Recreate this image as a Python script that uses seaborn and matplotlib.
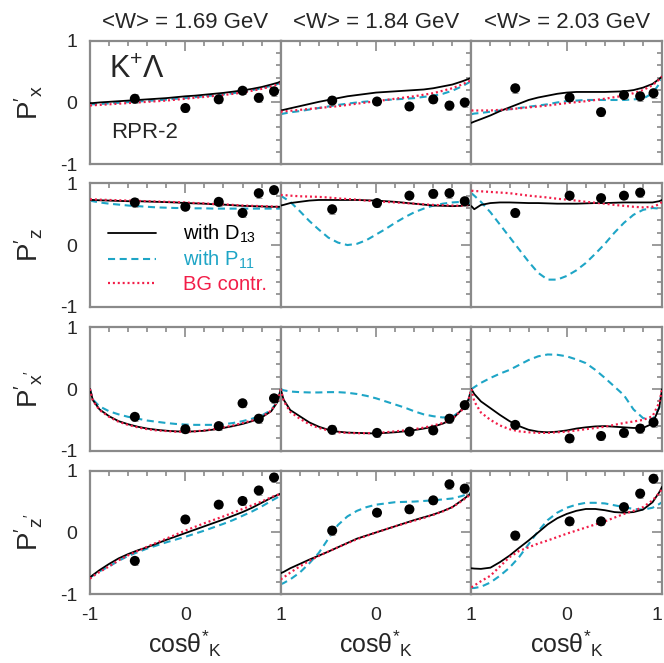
import numpy as np
import pandas as pd
import matplotlib
matplotlib.use("Agg")
import matplotlib.pyplot as plt
import seaborn as sns
from matplotlib.ticker import FixedLocator, MultipleLocator, FixedFormatter

# ---------------- data ----------------
energies = ["1.69", "1.84", "2.03"]
row_labels = [r"$\mathrm{P'_{x}}$", r"$\mathrm{P'_{z}}$", r"$\mathrm{P'_{x'}}$", r"$\mathrm{P'_{z'}}$"]

# model-curve abscissa (cos theta*_K)
cos_grid = [-1, -0.97, -0.9, -0.8, -0.7, -0.6, -0.5, -0.4, -0.3, -0.2, -0.1, 0,
            0.1, 0.2, 0.3, 0.4, 0.5, 0.6, 0.7, 0.8, 0.9, 0.97, 1]

# data-point abscissae per W bin
pts_x_169 = [-0.53, 0.00, 0.35, 0.60, 0.77, 0.93]
pts_x_184 = [-0.46, 0.01, 0.35, 0.60, 0.77, 0.93]
pts_x_203 = [-0.54, 0.03, 0.36, 0.60, 0.77, 0.91]
pts_err = [0.07, 0.06, 0.06, 0.06, 0.07, 0.07]

# ---- P'x ----
px_169_d13 = [-0.01, -0.01, 0.0, 0.01, 0.02, 0.03, 0.04, 0.05, 0.06, 0.07, 0.085, 0.10,
              0.11, 0.125, 0.14, 0.155, 0.175, 0.195, 0.22, 0.25, 0.29, 0.32, 0.34]
px_169_p11 = [-0.035, -0.03, -0.025, -0.015, -0.005, 0.005, 0.015, 0.025, 0.035, 0.045, 0.06, 0.07,
              0.085, 0.10, 0.115, 0.13, 0.15, 0.17, 0.20, 0.23, 0.27, 0.30, 0.32]
px_169_bg = [-0.05, -0.045, -0.04, -0.03, -0.02, -0.01, 0.0, 0.01, 0.02, 0.03, 0.045, 0.06,
             0.075, 0.09, 0.105, 0.12, 0.14, 0.16, 0.19, 0.22, 0.26, 0.29, 0.31]
px_169_pts = [0.06, -0.09, 0.05, 0.19, 0.075, 0.18]

px_184_d13 = [-0.13, -0.12, -0.095, -0.06, -0.025, 0.01, 0.04, 0.07, 0.10, 0.12, 0.14, 0.16,
              0.17, 0.18, 0.19, 0.20, 0.21, 0.23, 0.26, 0.29, 0.34, 0.38, 0.40]
px_184_p11 = [-0.19, -0.18, -0.16, -0.14, -0.115, -0.09, -0.065, -0.04, -0.02, 0.0, 0.015, 0.03,
              0.04, 0.05, 0.06, 0.07, 0.09, 0.11, 0.14, 0.19, 0.26, 0.32, 0.35]
px_184_bg = [-0.15, -0.145, -0.135, -0.12, -0.105, -0.09, -0.075, -0.06, -0.04, -0.02, 0.0, 0.02,
             0.04, 0.06, 0.08, 0.10, 0.125, 0.15, 0.19, 0.23, 0.29, 0.34, 0.36]
px_184_pts = [0.03, 0.015, -0.065, 0.05, -0.05, 0.0]

px_203_d13 = [-0.33, -0.31, -0.27, -0.21, -0.14, -0.08, -0.02, 0.04, 0.08, 0.11, 0.14, 0.16,
              0.17, 0.17, 0.17, 0.17, 0.175, 0.18, 0.20, 0.24, 0.30, 0.38, 0.42]
px_203_p11 = [-0.19, -0.18, -0.17, -0.15, -0.13, -0.11, -0.09, -0.07, -0.05, -0.03, 0.0, 0.02,
              0.03, 0.04, 0.04, 0.04, 0.04, 0.04, 0.05, 0.06, 0.15, 0.30, 0.39]
px_203_bg = [-0.13, -0.13, -0.13, -0.13, -0.12, -0.11, -0.095, -0.08, -0.065, -0.05, -0.03, -0.01,
             0.005, 0.02, 0.04, 0.06, 0.085, 0.11, 0.15, 0.20, 0.28, 0.37, 0.42]
px_203_pts = [0.23, 0.08, -0.156, 0.12, 0.10, 0.15]

# ---- P'z ----
pz_169_d13 = [0.73, 0.73, 0.725, 0.72, 0.715, 0.71, 0.71, 0.705, 0.70, 0.695, 0.69, 0.68,
              0.675, 0.67, 0.66, 0.655, 0.645, 0.635, 0.63, 0.625, 0.62, 0.62, 0.62]
pz_169_p11 = [0.72, 0.71, 0.69, 0.67, 0.655, 0.64, 0.63, 0.62, 0.61, 0.605, 0.60, 0.60,
              0.595, 0.595, 0.59, 0.59, 0.59, 0.59, 0.59, 0.59, 0.59, 0.59, 0.59]
pz_169_bg = [0.74, 0.74, 0.735, 0.73, 0.725, 0.72, 0.715, 0.71, 0.705, 0.70, 0.695, 0.69,
             0.68, 0.675, 0.665, 0.66, 0.65, 0.64, 0.635, 0.63, 0.625, 0.62, 0.62]
pz_169_pts = [0.69, 0.62, 0.70, 0.52, 0.84, 0.89]

pz_184_d13 = [0.64, 0.65, 0.68, 0.70, 0.72, 0.73, 0.73, 0.73, 0.73, 0.73, 0.725, 0.72,
              0.71, 0.70, 0.685, 0.67, 0.655, 0.64, 0.635, 0.63, 0.635, 0.645, 0.65]
pz_184_p11 = [0.80, 0.77, 0.70, 0.55, 0.39, 0.25, 0.12, 0.04, 0.0, 0.02, 0.08, 0.17,
              0.26, 0.36, 0.45, 0.53, 0.59, 0.64, 0.67, 0.69, 0.70, 0.68, 0.66]
pz_184_bg = [0.81, 0.81, 0.80, 0.79, 0.785, 0.78, 0.77, 0.755, 0.745, 0.735, 0.72, 0.71,
             0.70, 0.69, 0.68, 0.67, 0.66, 0.65, 0.645, 0.64, 0.635, 0.63, 0.63]
pz_184_pts = [0.58, 0.68, 0.80, 0.83, 0.84, 0.71]

pz_203_d13 = [0.63, 0.58, 0.65, 0.68, 0.69, 0.69, 0.685, 0.68, 0.68, 0.675, 0.67, 0.67,
              0.67, 0.675, 0.68, 0.68, 0.685, 0.69, 0.69, 0.69, 0.69, 0.71, 0.73]
pz_203_p11 = [0.84, 0.80, 0.70, 0.53, 0.33, 0.13, -0.07, -0.27, -0.45, -0.56, -0.56, -0.50,
              -0.41, -0.29, -0.14, 0.02, 0.20, 0.36, 0.49, 0.57, 0.60, 0.59, 0.58]
pz_203_bg = [0.88, 0.875, 0.87, 0.86, 0.85, 0.84, 0.82, 0.80, 0.785, 0.77, 0.75, 0.735,
             0.72, 0.70, 0.685, 0.67, 0.65, 0.635, 0.62, 0.61, 0.62, 0.66, 0.70]
pz_203_pts = [0.52, 0.80, 0.76, 0.80, 0.85, np.nan]

# ---- P'x' ----
pxp_169_d13 = [0.0, -0.18, -0.33, -0.44, -0.52, -0.57, -0.61, -0.64, -0.66, -0.675, -0.685, -0.69,
               -0.685, -0.675, -0.655, -0.63, -0.60, -0.565, -0.52, -0.46, -0.36, -0.20, 0.0]
pxp_169_p11 = [0.0, -0.17, -0.28, -0.36, -0.41, -0.45, -0.48, -0.51, -0.53, -0.55, -0.565, -0.575,
               -0.58, -0.58, -0.58, -0.57, -0.55, -0.52, -0.48, -0.43, -0.34, -0.19, 0.0]
pxp_169_bg = [0.0, -0.19, -0.34, -0.45, -0.53, -0.58, -0.62, -0.65, -0.67, -0.68, -0.69, -0.69,
              -0.685, -0.67, -0.65, -0.62, -0.59, -0.55, -0.51, -0.45, -0.35, -0.19, 0.0]
pxp_169_pts = [-0.45, -0.65, -0.60, -0.23, -0.48, -0.15]

pxp_184_d13 = [0.0, -0.17, -0.34, -0.44, -0.54, -0.61, -0.66, -0.69, -0.705, -0.71, -0.715, -0.72,
               -0.71, -0.70, -0.685, -0.665, -0.64, -0.61, -0.56, -0.49, -0.33, -0.17, 0.0]
pxp_184_p11 = [0.0, -0.02, -0.04, -0.05, -0.055, -0.055, -0.05, -0.05, -0.06, -0.08, -0.11, -0.15,
               -0.20, -0.25, -0.30, -0.36, -0.41, -0.44, -0.46, -0.45, -0.34, -0.17, 0.0]
pxp_184_bg = [0.0, -0.19, -0.37, -0.48, -0.57, -0.63, -0.67, -0.70, -0.71, -0.715, -0.715, -0.71,
              -0.70, -0.685, -0.67, -0.65, -0.625, -0.59, -0.55, -0.48, -0.34, -0.17, 0.0]
pxp_184_pts = [-0.66, -0.71, -0.69, -0.67, -0.48, -0.26]

pxp_203_d13 = [0.0, -0.08, -0.20, -0.31, -0.42, -0.52, -0.60, -0.66, -0.69, -0.70, -0.69, -0.67,
               -0.64, -0.62, -0.605, -0.60, -0.61, -0.62, -0.63, -0.63, -0.56, -0.30, 0.0]
pxp_203_p11 = [0.0, 0.03, 0.10, 0.18, 0.25, 0.31, 0.39, 0.47, 0.53, 0.56, 0.555, 0.53,
               0.48, 0.42, 0.31, 0.18, 0.04, -0.10, -0.33, -0.47, -0.50, -0.30, 0.0]
pxp_203_bg = [0.0, -0.20, -0.38, -0.50, -0.59, -0.65, -0.685, -0.70, -0.71, -0.71, -0.70, -0.69,
              -0.67, -0.65, -0.63, -0.61, -0.58, -0.55, -0.525, -0.50, -0.44, -0.22, 0.0]
pxp_203_pts = [-0.58, -0.80, -0.76, -0.71, -0.64, -0.54]

# ---- P'z' ----
pzp_169_d13 = [-0.73, -0.69, -0.61, -0.51, -0.42, -0.35, -0.29, -0.24, -0.18, -0.12, -0.065, -0.01,
               0.045, 0.10, 0.155, 0.21, 0.27, 0.33, 0.40, 0.48, 0.56, 0.61, 0.63]
pzp_169_p11 = [-0.73, -0.70, -0.63, -0.55, -0.46, -0.38, -0.32, -0.26, -0.21, -0.16, -0.115, -0.07,
               -0.02, 0.03, 0.085, 0.14, 0.20, 0.27, 0.34, 0.42, 0.51, 0.57, 0.60]
pzp_169_bg = [-0.75, -0.71, -0.64, -0.55, -0.45, -0.37, -0.30, -0.23, -0.165, -0.10, -0.035, 0.03,
              0.09, 0.15, 0.205, 0.26, 0.32, 0.38, 0.44, 0.50, 0.57, 0.61, 0.63]
pzp_169_pts = [-0.46, 0.21, 0.45, 0.51, 0.68, 0.89]

pzp_184_d13 = [-0.66, -0.64, -0.58, -0.51, -0.44, -0.375, -0.31, -0.24, -0.17, -0.10, -0.05, 0.0,
               0.05, 0.10, 0.15, 0.20, 0.245, 0.29, 0.345, 0.41, 0.52, 0.60, 0.64]
pzp_184_p11 = [-0.84, -0.82, -0.76, -0.65, -0.50, -0.33, -0.10, 0.12, 0.26, 0.35, 0.41, 0.45,
               0.47, 0.49, 0.495, 0.50, 0.51, 0.52, 0.535, 0.55, 0.59, 0.63, 0.65]
pzp_184_bg = [-0.76, -0.73, -0.65, -0.55, -0.46, -0.38, -0.31, -0.24, -0.175, -0.11, -0.055, 0.0,
              0.05, 0.10, 0.145, 0.19, 0.235, 0.285, 0.34, 0.41, 0.51, 0.59, 0.63]
pzp_184_pts = [0.03, 0.32, 0.375, 0.52, 0.78, 0.71]

pzp_203_d13 = [-0.58, -0.585, -0.59, -0.57, -0.48, -0.375, -0.25, -0.13, 0.0, 0.13, 0.23, 0.30,
               0.35, 0.38, 0.38, 0.36, 0.33, 0.32, 0.33, 0.37, 0.49, 0.65, 0.74]
pzp_203_p11 = [-0.90, -0.90, -0.88, -0.81, -0.70, -0.57, -0.40, -0.19, 0.02, 0.20, 0.32, 0.40,
               0.45, 0.48, 0.48, 0.47, 0.44, 0.41, 0.38, 0.37, 0.40, 0.46, 0.49]
pzp_203_bg = [-0.89, -0.86, -0.79, -0.70, -0.55, -0.40, -0.30, -0.24, -0.18, -0.13, -0.075, -0.02,
              0.03, 0.08, 0.13, 0.18, 0.24, 0.30, 0.35, 0.41, 0.52, 0.64, 0.71]
pzp_203_pts = [-0.05, 0.18, 0.18, 0.41, 0.63, 0.87]

# assemble lookup tables from the named lists
pts_x = [pts_x_169, pts_x_184, pts_x_203]
curves = [
    [(px_169_d13, px_169_p11, px_169_bg, px_169_pts),
     (px_184_d13, px_184_p11, px_184_bg, px_184_pts),
     (px_203_d13, px_203_p11, px_203_bg, px_203_pts)],
    [(pz_169_d13, pz_169_p11, pz_169_bg, pz_169_pts),
     (pz_184_d13, pz_184_p11, pz_184_bg, pz_184_pts),
     (pz_203_d13, pz_203_p11, pz_203_bg, pz_203_pts)],
    [(pxp_169_d13, pxp_169_p11, pxp_169_bg, pxp_169_pts),
     (pxp_184_d13, pxp_184_p11, pxp_184_bg, pxp_184_pts),
     (pxp_203_d13, pxp_203_p11, pxp_203_bg, pxp_203_pts)],
    [(pzp_169_d13, pzp_169_p11, pzp_169_bg, pzp_169_pts),
     (pzp_184_d13, pzp_184_p11, pzp_184_bg, pzp_184_pts),
     (pzp_203_d13, pzp_203_p11, pzp_203_bg, pzp_203_pts)],
]

# ---------------- style ----------------
sns.set_style("white")
plt.rcParams['font.family'] = ['Liberation Sans', 'DejaVu Sans']
plt.rcParams['mathtext.fontset'] = 'custom'
plt.rcParams['mathtext.rm'] = 'Liberation Sans'
plt.rcParams['mathtext.it'] = 'Liberation Sans'
plt.rcParams['mathtext.bf'] = 'Liberation Sans:bold'

BLACK = '#000000'
CYAN = '#1ea5c6'
RED = '#f21d48'
GRAY = '#8a8a8a'

W, H = 664, 663
fig = plt.figure(figsize=(W / 100, H / 100), dpi=100)
left_px = 90.0
col_w = 190.7
row_tops = [40.7, 183.3, 327.3, 470.7]
row_h = 123.5

for r in range(4):
    for c in range(3):
        ax = fig.add_axes([(left_px + c * col_w) / W,
                           1 - (row_tops[r] + row_h) / H,
                           col_w / W, row_h / H])
        d13, p11, bg, pts = curves[r][c]
        df = pd.DataFrame({'cos': cos_grid, 'D13': d13, 'P11': p11, 'BG': bg})
        sns.lineplot(data=df, x='cos', y='D13', ax=ax, color=BLACK, lw=1.3,
                     estimator=None, label='with D$_{\\mathrm{13}}$', zorder=3)
        sns.lineplot(data=df, x='cos', y='P11', ax=ax, color=CYAN, lw=1.5,
                     linestyle=(0, (3.4, 2.2)), estimator=None,
                     label='with P$_{\\mathrm{11}}$', zorder=2)
        sns.lineplot(data=df, x='cos', y='BG', ax=ax, color=RED, lw=1.6,
                     linestyle=(0, (0.9, 1.3)), estimator=None,
                     label='BG contr.', zorder=4)
        dp = pd.DataFrame({'cos': pts_x[c], 'P': pts, 'err': pts_err})
        ax.errorbar(dp['cos'], dp['P'], yerr=dp['err'], fmt='none',
                    ecolor='#a0a0a0', elinewidth=0.7, capsize=2.0, capthick=0.7, zorder=5)
        sns.scatterplot(data=dp, x='cos', y='P', ax=ax, color='black', s=52,
                        edgecolor='none', zorder=6, legend=False)

        if r == 1 and c == 0:
            h, l = ax.get_legend_handles_labels()
            leg = ax.legend(h, l, loc='upper left', bbox_to_anchor=(0.095, 0.68),
                            frameon=False, fontsize=14.5, handlelength=2.4,
                            handletextpad=1.3, labelspacing=0.2, borderpad=0,
                            borderaxespad=0)
            for txt, col in zip(leg.get_texts(), [BLACK, CYAN, RED]):
                txt.set_color(col)
        else:
            lg = ax.get_legend()
            if lg is not None:
                lg.remove()

        ax.set_xlim(-1, 1)
        ax.set_ylim(-1, 1)
        ax.xaxis.set_major_locator(FixedLocator([-1, 0, 1]))
        ax.yaxis.set_major_locator(FixedLocator([-1, 0, 1]))
        ax.xaxis.set_minor_locator(MultipleLocator(0.2))
        ax.yaxis.set_minor_locator(MultipleLocator(0.2))
        ax.tick_params(which='both', direction='in', top=True, right=True,
                       color=GRAY, width=1.2)
        ax.tick_params(which='major', length=7.5)
        ax.tick_params(which='minor', length=3.8)
        ax.tick_params(axis='x', pad=9, labelsize=14)
        ax.tick_params(axis='y', pad=9, labelsize=14)
        for s in ax.spines.values():
            s.set_color(GRAY)
            s.set_linewidth(1.6)

        if c == 0:
            ax.yaxis.set_major_formatter(FixedFormatter(['-1', '0', '1']))
            ax.set_ylabel(row_labels[r], fontsize=20)
            ax.yaxis.set_label_coords(-0.235, 0.5)
        else:
            ax.set_yticklabels([])
            ax.set_ylabel('')
        if r == 3:
            if c == 0:
                ax.xaxis.set_major_formatter(FixedFormatter(['-1', '0', '1']))
            else:
                ax.xaxis.set_major_formatter(FixedFormatter(['', '0', '1']))
            if c == 2:
                ax.get_xticklabels()[-1].set_horizontalalignment('right')
            ax.set_xlabel(r'$\mathrm{cos\theta^{*}{}_{K}}$', fontsize=18)
            ax.xaxis.set_label_coords(0.5, -0.275)
        else:
            ax.set_xticklabels([])
            ax.set_xlabel('')

        if r == 0:
            ax.text(0.5, 1 + (row_tops[0] - 22) / row_h, f'<W> = {energies[c]} GeV',
                    ha='center', va='center', fontsize=16, transform=ax.transAxes)
        if r == 0 and c == 0:
            ax.text(0.1, 0.76, r'$\mathrm{K^{+}\Lambda}$', ha='left', va='center',
                    fontsize=22, transform=ax.transAxes)
            ax.text(0.11, 0.255, 'RPR-2', ha='left', va='center',
                    fontsize=16, transform=ax.transAxes)

fig.savefig('out.png', dpi=100)
